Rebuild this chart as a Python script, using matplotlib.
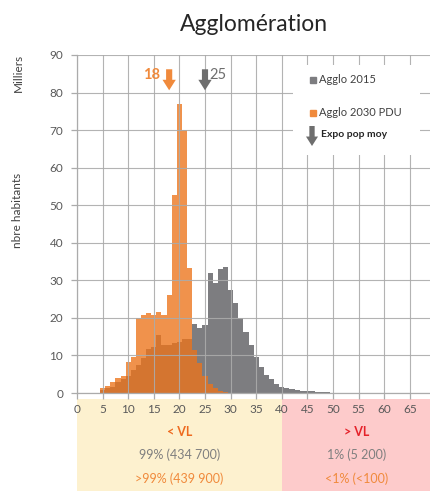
import matplotlib
matplotlib.use("Agg")
import matplotlib.pyplot as plt
from matplotlib.patches import Rectangle, FancyArrow

plt.rcParams['font.family'] = ['Lato', 'DejaVu Sans']

# Exposure classes (µg/m³, 1-unit bins) and population per class (thousands)
conc_2015 = list(range(5, 51))
pop_2015 = [0.8, 1.2, 1.7, 2.8, 3.6, 4.5, 6.1, 7.5, 9.2, 11.6, 12.3, 15.4, 12.8, 12.8,
            13.2, 13.7, 14.3, 14.3, 18.5, 17.2, 18.1, 31.9, 29.2, 33.0, 33.6, 27.5,
            24.0, 19.9, 16.3, 12.8, 9.7, 7.0, 4.8, 3.6, 2.4, 1.7, 1.3, 1.0, 0.8, 0.6,
            0.5, 0.4, 0.3, 0.2, 0.2, 0.1]
conc_2030 = list(range(5, 30))
pop_2030 = [1.25, 1.9, 2.8, 3.9, 4.5, 8.3, 9.5, 19.9, 20.8, 21.2, 20.8, 21.6, 20.8,
            26.0, 52.7, 77.0, 70.0, 33.3, 11.4, 7.9, 4.5, 2.5, 1.2, 0.6, 0.2]

# Population-weighted mean exposure
mean_2015 = 25
mean_2030 = 18

series_names = ["Agglo 2015", "Agglo 2030 PDU"]
x_ticks = list(range(0, 70, 5))
y_ticks = list(range(0, 100, 10))
limit_value = 40

share_text = {
    "below": ("< VL", "99% (434 700)", ">99% (439 900)"),
    "above": ("> VL", "1% (5 200)", "<1% (<100)"),
}

GRAY = (0.49, 0.49, 0.50)
ORANGE = (0.93, 0.45, 0.10)
ORANGE_TXT = "#F08A3C"
TXT_GRAY = "#595959"
GRID = "#ABABAB"

W, H = 431, 491
fig = plt.figure(figsize=(W / 100, H / 100), dpi=100)

x0, x1, y0, y1 = 77, 431, 393, 55
ax = fig.add_axes([x0 / W, (H - y0) / H, (x1 - x0) / W, (y0 - y1) / H])
ax.set_zorder(2)
xmax = (x1 - x0) / 5.12
ax.set_xlim(0, xmax)
ax.set_ylim(0, 90)

ax.bar(conc_2015, pop_2015, width=1.0, color=GRAY, linewidth=0, zorder=2)
ax.bar(conc_2030, pop_2030, width=1.0, color=ORANGE, alpha=0.78, linewidth=0, zorder=2.1)

ax.set_xticks(x_ticks)
ax.set_yticks(y_ticks)
ax.grid(True, color=GRID, linewidth=0.8, alpha=0.9, zorder=3)
ax.set_axisbelow(False)
for s in ("top", "right"):
    ax.spines[s].set_visible(False)
for s in ("left", "bottom"):
    ax.spines[s].set_color(GRID)
    ax.spines[s].set_linewidth(0.9)
ax.tick_params(axis="both", colors=GRID, labelcolor=TXT_GRAY, labelsize=8.5,
               length=4, width=0.9)
ax.tick_params(axis="x", pad=4)
ax.tick_params(axis="y", pad=6)

# Mean exposure arrows
for m, col, label, weight, dx in ((mean_2030, ORANGE_TXT, str(mean_2030), "bold", -3.4),
                                  (mean_2015, "#6E6E6E", str(mean_2015), "normal", 2.5)):
    ax.add_patch(FancyArrow(m, 86.2, 0, -5.6, width=1.2, head_width=2.6, head_length=2.8,
                            length_includes_head=True, color=col, linewidth=0, zorder=5))
    ax.text(m + dx, 84.6, label, color=col, fontsize=10.5, fontweight=weight,
            ha="center", va="center", zorder=5)

# Legend block
def ax_xy(px, py):
    return (px - x0) / (x1 - x0), (y0 - py) / (y0 - y1)

lx, ly = ax_xy(293, 155)
rx, ry = ax_xy(420, 65)
ax.add_patch(Rectangle((lx, ly), rx - lx, ry - ly, transform=ax.transAxes,
                       facecolor="white", edgecolor="none", zorder=4))
for (py, col, name) in ((80, GRAY, series_names[0]), (113, ORANGE_TXT, series_names[1])):
    mx, my = ax_xy(313.5, py)
    ax.plot([mx], [my], marker="s", ms=4.5, color=col, transform=ax.transAxes,
            zorder=5, linestyle="none")
    tx, ty = ax_xy(319, py)
    ax.text(tx, ty, name, transform=ax.transAxes, fontsize=8, color="#404040",
            ha="left", va="center", zorder=5)
ax_top = ax_xy(312, 126)
ax_bot = ax_xy(312, 146)
ax.add_patch(FancyArrow(ax_top[0], ax_top[1], 0, ax_bot[1] - ax_top[1], width=0.015,
                        head_width=0.034, head_length=0.028, length_includes_head=True,
                        transform=ax.transAxes, color="#6E6E6E", linewidth=0, zorder=5))
tx, ty = ax_xy(321, 135)
ax.text(tx, ty, "Expo pop moy", transform=ax.transAxes, fontsize=7.5, fontweight="bold",
        color="#262626", ha="left", va="center", zorder=5)

ax.set_title("Agglomération", fontsize=16.5, color="#262626", pad=17)

fig.text(18 / W, 1 - 73 / H, "Milliers", rotation=90, fontsize=8.5, color="#404040",
         ha="center", va="center")
fig.text(18 / W, 1 - 210 / H, "nbre habitants", rotation=90, fontsize=8.5, color="#404040",
         ha="center", va="center")

# Threshold band below the histogram
band_top = 399
bax = fig.add_axes([x0 / W, 0, (x1 - x0) / W, (H - band_top) / H])
bax.set_zorder(1)
bax.set_xlim(0, xmax)
bax.set_ylim(0, 1)
bax.axis("off")
bax.axvspan(0, limit_value, color="#FDF1CF", linewidth=0)
bax.axvspan(limit_value, xmax, color="#FDCBCB", linewidth=0)
bh = H - band_top
rows = [(H - 432) / bh, (H - 455) / bh, (H - 479) / bh]
for xc, texts, head_col in ((limit_value / 2, share_text["below"], "#EE6A1F"),
                            ((limit_value + xmax) / 2, share_text["above"], "#E5222A")):
    bax.text(xc, rows[0], texts[0], color=head_col, fontsize=9, fontweight="bold",
             ha="center", va="center")
    bax.text(xc, rows[1], texts[1], color="#7F7F7F", fontsize=9, ha="center", va="center")
    bax.text(xc, rows[2], texts[2], color=ORANGE_TXT, fontsize=9, ha="center", va="center")

fig.savefig("out.png", dpi=100)
